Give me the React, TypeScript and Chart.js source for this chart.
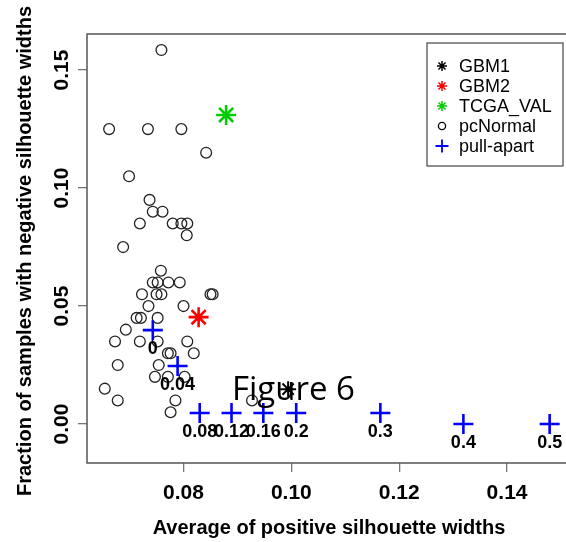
import React, { useEffect, useRef } from 'react';
import { Chart, registerables } from 'chart.js';

Chart.register(...registerables);

const X_MIN = 0.0621;
const X_MAX = 0.1549;
const Y_MIN = -0.0165;
const Y_MAX = 0.1653;

const xTickValues = [0.08, 0.1, 0.12, 0.14];
const xTickLabels = ['0.08', '0.10', '0.12', '0.14'];
const yTickValues = [0, 0.05, 0.1, 0.15];
const yTickLabels = ['0.00', '0.05', '0.10', '0.15'];

const xTitle = 'Average of positive silhouette widths';
const yTitle = 'Fraction of samples with negative silhouette widths';
const annotation = 'Figure 6';

const pcNormalX = [
  0.0759, 0.0662, 0.0734, 0.0796, 0.0842, 0.0699, 0.0737, 0.0743, 0.0761, 0.0719,
  0.078, 0.0796, 0.0807, 0.0806, 0.0688, 0.0758, 0.0743, 0.0752, 0.0772, 0.0793,
  0.0723, 0.075, 0.0759, 0.085, 0.0854, 0.0735, 0.08, 0.0713, 0.0721, 0.0752,
  0.0693, 0.0673, 0.0719, 0.0752, 0.0807, 0.0771, 0.0776, 0.0819, 0.0678, 0.0754,
  0.0747, 0.0771, 0.0802, 0.0654, 0.0678, 0.0785, 0.0776, 0.0927,
];
const pcNormalY = [
  0.1585, 0.125, 0.125, 0.125, 0.115, 0.105, 0.095, 0.09, 0.09, 0.085,
  0.085, 0.085, 0.085, 0.08, 0.075, 0.065, 0.06, 0.06, 0.06, 0.06,
  0.055, 0.055, 0.055, 0.055, 0.055, 0.05, 0.05, 0.045, 0.045, 0.045,
  0.04, 0.035, 0.035, 0.035, 0.035, 0.03, 0.03, 0.03, 0.025, 0.025,
  0.02, 0.02, 0.02, 0.015, 0.01, 0.01, 0.005, 0.01,
];

const gbm1X = [0.0994];
const gbm1Y = [0.0148];
const gbm2X = [0.0828];
const gbm2Y = [0.0453];
const tcgaX = [0.0879];
const tcgaY = [0.131];

const pullApartX = [0.0743, 0.0789, 0.083, 0.0889, 0.0948, 0.1009, 0.1165, 0.1319, 0.1479];
const pullApartY = [0.0398, 0.0246, 0.0047, 0.0047, 0.0047, 0.0047, 0.0047, 0.0, 0.0];
const pullApartLabels = ['0', '0.04', '0.08', '0.12', '0.16', '0.2', '0.3', '0.4', '0.5'];

const legendNames = ['GBM1', 'GBM2', 'TCGA_VAL', 'pcNormal', 'pull-apart'];
const legendColors = ['#000000', '#ff0000', '#00cd00', '#000000', '#0000ff'];
const legendShapes = ['star', 'star', 'star', 'circle', 'plus'];

const zip = (xs: number[], ys: number[]) => xs.map((x, i) => ({ x, y: ys[i] }));

const FONT = '"Liberation Sans", Arial, Helvetica, sans-serif';

const overlay = {
  id: 'overlay',
  afterDraw(chart: any) {
    const ctx = chart.ctx as CanvasRenderingContext2D;
    const { left, right, top, bottom } = chart.chartArea;
    const xs = chart.scales.x;
    const ys = chart.scales.y;
    ctx.save();
    // box
    ctx.strokeStyle = '#555';
    ctx.lineWidth = 1.5;
    ctx.strokeRect(left, top, right - left, bottom - top);

    ctx.fillStyle = '#000';
    ctx.textAlign = 'center';
    ctx.textBaseline = 'alphabetic';
    ctx.font = `bold 21px ${FONT}`;
    xTickValues.forEach((v, i) => ctx.fillText(xTickLabels[i], xs.getPixelForValue(v), 499));
    yTickValues.forEach((v, i) => {
      ctx.save();
      ctx.translate(68, ys.getPixelForValue(v));
      ctx.rotate(-Math.PI / 2);
      ctx.fillText(yTickLabels[i], 0, 0);
      ctx.restore();
    });

    ctx.font = `bold 20px ${FONT}`;
    ctx.fillText(xTitle, 329, 534);
    ctx.save();
    ctx.translate(31, 251);
    ctx.rotate(-Math.PI / 2);
    ctx.fillText(yTitle, 0, 0);
    ctx.restore();

    // pull-apart labels
    const meta = chart.getDatasetMeta(0);
    ctx.font = `bold 18px ${FONT}`;
    meta.data.forEach((pt: any, i: number) => {
      ctx.fillText(pullApartLabels[i], pt.x, pt.y + 24);
    });

    // legend
    const lx = 427, ly = 43, lw = 136, lh = 123;
    ctx.fillStyle = '#fff';
    ctx.fillRect(lx, ly, lw, lh);
    ctx.strokeStyle = '#444';
    ctx.lineWidth = 1.2;
    ctx.strokeRect(lx, ly, lw, lh);
    ctx.font = `18px ${FONT}`;
    ctx.textAlign = 'left';
    ctx.textBaseline = 'middle';
    legendNames.forEach((name, i) => {
      const cy = 66 + 20 * i;
      const cx = 442;
      ctx.strokeStyle = legendColors[i];
      const shape = legendShapes[i];
      ctx.beginPath();
      if (shape === 'star') {
        ctx.lineWidth = 1.5;
        const r = 5;
        const d = r * Math.SQRT1_2;
        ctx.moveTo(cx - r, cy); ctx.lineTo(cx + r, cy);
        ctx.moveTo(cx, cy - r); ctx.lineTo(cx, cy + r);
        ctx.moveTo(cx - d, cy - d); ctx.lineTo(cx + d, cy + d);
        ctx.moveTo(cx - d, cy + d); ctx.lineTo(cx + d, cy - d);
      } else if (shape === 'circle') {
        ctx.lineWidth = 1.3;
        ctx.arc(cx, cy, 3.6, 0, Math.PI * 2);
      } else {
        ctx.lineWidth = 1.8;
        const r = 6.5;
        ctx.moveTo(cx - r, cy); ctx.lineTo(cx + r, cy);
        ctx.moveTo(cx, cy - r); ctx.lineTo(cx, cy + r);
      }
      ctx.stroke();
      ctx.fillStyle = '#000';
      ctx.fillText(name, 459, cy + 1);
    });

    // annotation
    ctx.font = '33px "Open Sans", sans-serif';
    ctx.textAlign = 'left';
    ctx.textBaseline = 'alphabetic';
    ctx.fillStyle = '#000';
    ctx.fillText(annotation, 232, 400);
    ctx.restore();
  },
};

export default function App() {
  const ref = useRef<HTMLCanvasElement | null>(null);
  useEffect(() => {
    if (!ref.current) return;
    const chart = new Chart(ref.current, {
      type: 'scatter',
      data: {
        datasets: [
          {
            label: 'pull-apart',
            data: zip(pullApartX, pullApartY),
            pointStyle: 'cross',
            pointRadius: 10,
            borderColor: '#0000ff',
            backgroundColor: '#0000ff',
            borderWidth: 2.6,
          },
          {
            label: 'GBM1',
            data: zip(gbm1X, gbm1Y),
            pointStyle: 'star',
            pointRadius: 8,
            borderColor: '#000000',
            borderWidth: 2,
          },
          {
            label: 'GBM2',
            data: zip(gbm2X, gbm2Y),
            pointStyle: 'star',
            pointRadius: 10,
            borderColor: '#ff0000',
            borderWidth: 2.6,
          },
          {
            label: 'TCGA_VAL',
            data: zip(tcgaX, tcgaY),
            pointStyle: 'star',
            pointRadius: 10,
            borderColor: '#00cd00',
            borderWidth: 2.6,
          },
          {
            label: 'pcNormal',
            data: zip(pcNormalX, pcNormalY),
            pointStyle: 'circle',
            pointRadius: 5.4,
            borderColor: '#222',
            backgroundColor: 'rgba(0,0,0,0)',
            borderWidth: 1.3,
          },
        ],
      },
      options: {
        responsive: false,
        animation: false,
        devicePixelRatio: 1,
        layout: { padding: { top: 34, right: 10, left: 0, bottom: 0 } },
        plugins: { legend: { display: false }, tooltip: { enabled: false } },
        scales: {
          x: {
            type: 'linear',
            min: X_MIN,
            max: X_MAX,
            afterBuildTicks: (s: any) => { s.ticks = xTickValues.map((v) => ({ value: v })); },
            afterFit: (s: any) => { s.height = 79; },
            ticks: { display: false },
            grid: { drawOnChartArea: false, drawTicks: true, tickLength: 9, color: '#777', lineWidth: 1.3 },
            border: { display: false },
          },
          y: {
            type: 'linear',
            min: Y_MIN,
            max: Y_MAX,
            afterBuildTicks: (s: any) => { s.ticks = yTickValues.map((v) => ({ value: v })); },
            afterFit: (s: any) => { s.width = 87; },
            ticks: { display: false },
            grid: { drawOnChartArea: false, drawTicks: true, tickLength: 9, color: '#777', lineWidth: 1.3 },
            border: { display: false },
          },
        },
      },
      plugins: [overlay],
    });
    return () => chart.destroy();
  }, []);
  return (
    <div style={{ position: 'fixed', left: 0, top: 0, width: 600, height: 542, background: '#fff' }}>
      <canvas ref={ref} width={600} height={542} style={{ display: 'block' }} />
    </div>
  );
}
